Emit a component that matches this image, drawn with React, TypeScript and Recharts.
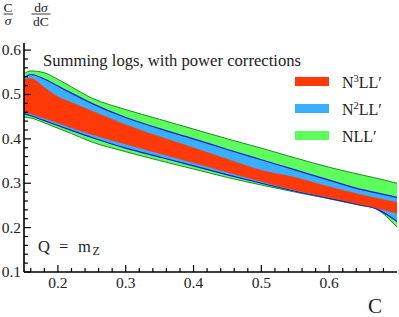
import React from 'react';
import { ComposedChart, Area, Line, XAxis, YAxis } from 'recharts';

// C values
const cValues = [0.15, 0.16, 0.18, 0.2, 0.22, 0.25, 0.3, 0.35, 0.4, 0.45, 0.5, 0.55, 0.6, 0.65, 0.665, 0.7];

// NLL' band
const nllHigh = [0.547, 0.553, 0.549, 0.534, 0.517, 0.492, 0.466, 0.444, 0.422, 0.400, 0.379, 0.357, 0.336, 0.318, 0.313, 0.300];
const nllLow = [0.449, 0.447, 0.436, 0.424, 0.412, 0.393, 0.371, 0.351, 0.332, 0.313, 0.296, 0.280, 0.265, 0.249, 0.245, 0.201];

// N2LL' band
const n2llHigh = [0.538, 0.545, 0.535, 0.519, 0.503, 0.480, 0.448, 0.423, 0.400, 0.376, 0.353, 0.330, 0.307, 0.285, 0.280, 0.268];
const n2llLow = [0.457, 0.452, 0.441, 0.430, 0.419, 0.403, 0.379, 0.359, 0.339, 0.319, 0.300, 0.282, 0.266, 0.250, 0.245, 0.214];

// N3LL' band
const n3llHigh = [0.534, 0.536, 0.516, 0.495, 0.482, 0.463, 0.432, 0.405, 0.380, 0.354, 0.329, 0.313, 0.292, 0.273, 0.268, 0.257];
const n3llLow = [0.461, 0.456, 0.446, 0.436, 0.425, 0.410, 0.388, 0.367, 0.346, 0.325, 0.304, 0.284, 0.268, 0.251, 0.246, 0.232];

// ticks
const xTicks = [0.16, 0.18, 0.2, 0.22, 0.24, 0.26, 0.28, 0.3, 0.32, 0.34, 0.36, 0.38, 0.4, 0.42, 0.44, 0.46, 0.48, 0.5, 0.52, 0.54, 0.56, 0.58, 0.6, 0.62, 0.64, 0.66, 0.68];
const yTicks = [0.1, 0.12, 0.14, 0.16, 0.18, 0.2, 0.22, 0.24, 0.26, 0.28, 0.3, 0.32, 0.34, 0.36, 0.38, 0.4, 0.42, 0.44, 0.46, 0.48, 0.5, 0.52, 0.54, 0.56, 0.58, 0.6];

const seriesNames = ['N3LL', 'N2LL', 'NLL'];
const seriesColors = ['#ff3a08', '#38b0ff', '#5cff5c'];
const seriesStrokes = ['#ff3a08', '#1018e0', '#1f8a1f'];

const data = cValues.map((c, i) => ({
  c,
  nll: [nllLow[i], nllHigh[i]],
  n2ll: [n2llLow[i], n2llHigh[i]],
  n3ll: [n3llLow[i], n3llHigh[i]],
}));

const FONT = 'Liberation Serif';

const isMajor = (v: number) => Math.abs(v * 10 - Math.round(v * 10)) < 1e-6;

const BottomTick = (props: any) => {
  const { x, y, payload } = props;
  const v = payload.value;
  const major = isMajor(v);
  return (
    <g>
      <line x1={x} x2={x} y1={y} y2={y - (major ? 7 : 4)} stroke="#000" strokeWidth={1.2} />
      {major && (
        <text x={x} y={y + 16} textAnchor="middle" fontSize={15.5} fontFamily={FONT} fill="#222">
          {v.toFixed(1)}
        </text>
      )}
    </g>
  );
};

const TopTick = (props: any) => {
  const { x, y, payload } = props;
  const major = isMajor(payload.value);
  return <line x1={x} x2={x} y1={y} y2={y + (major ? 7 : 4)} stroke="#000" strokeWidth={1.2} />;
};

const LeftTick = (props: any) => {
  const { x, y, payload } = props;
  const v = payload.value;
  const major = isMajor(v);
  return (
    <g>
      <line x1={x} x2={x + (major ? 7 : 4)} y1={y} y2={y} stroke="#000" strokeWidth={1.2} />
      {major && (
        <text x={x - 3} y={y + 5} textAnchor="end" fontSize={15.5} fontFamily={FONT} fill="#222">
          {v.toFixed(1)}
        </text>
      )}
    </g>
  );
};

const RightTick = (props: any) => {
  const { x, y, payload } = props;
  const major = isMajor(payload.value);
  return <line x1={x} x2={x - (major ? 7 : 4)} y1={y} y2={y} stroke="#000" strokeWidth={1.2} />;
};

const axisLine = { stroke: '#000', strokeWidth: 1.6 };

export default function App() {
  return (
    <div style={{ position: 'absolute', left: 0, top: 0, width: 399, height: 317, background: '#fff' }}>
      <ComposedChart width={399} height={317} data={data} margin={{ top: 43, right: 2, bottom: 0, left: 0 }}>
        <XAxis xAxisId="bottom" dataKey="c" type="number" domain={[0.15, 0.7]} allowDataOverflow ticks={xTicks} interval={0}
          tick={<BottomTick />} tickLine={false} tickSize={0} tickMargin={0} axisLine={axisLine} height={45} />
        <XAxis xAxisId="top" orientation="top" dataKey="c" type="number" domain={[0.15, 0.7]} allowDataOverflow ticks={xTicks} interval={0}
          tick={<TopTick />} tickLine={false} tickSize={0} tickMargin={0} axisLine={axisLine} height={0} />
        <YAxis yAxisId="left" type="number" domain={[0.1, 0.616]} allowDataOverflow ticks={yTicks} interval={0}
          tick={<LeftTick />} tickLine={false} tickSize={0} tickMargin={0} axisLine={axisLine} width={24} />
        <YAxis yAxisId="right" orientation="right" type="number" domain={[0.1, 0.616]} allowDataOverflow ticks={yTicks} interval={0}
          tick={<RightTick />} tickLine={false} tickSize={0} tickMargin={0} axisLine={axisLine} width={0} />
        <Area xAxisId="bottom" yAxisId="left" type="monotone" dataKey="nll" fill={seriesColors[2]} fillOpacity={1}
          stroke={seriesStrokes[2]} strokeWidth={1} isAnimationActive={false} />
        <Area xAxisId="bottom" yAxisId="left" type="monotone" dataKey="n2ll" fill={seriesColors[1]} fillOpacity={1}
          stroke={seriesStrokes[1]} strokeWidth={1.2} isAnimationActive={false} />
        <Area xAxisId="bottom" yAxisId="left" type="monotone" dataKey="n3ll" fill={seriesColors[0]} fillOpacity={1}
          stroke={seriesStrokes[0]} strokeWidth={0.5} isAnimationActive={false} />
        <Line xAxisId="top" yAxisId="right" dataKey={(d: any) => d.n3ll[0]} stroke="none" dot={false} isAnimationActive={false} />
      </ComposedChart>
      <svg width={399} height={317} style={{ position: 'absolute', left: 0, top: 0, pointerEvents: 'none' }}>
        <g fontFamily={FONT} fill="#222">
          {/* y-axis label: C/σ dσ/dC */}
          <text x={8} y={11.5} fontSize={13.5} textAnchor="middle">C</text>
          <line x1={3.5} x2={13} y1={14} y2={14} stroke="#222" strokeWidth={0.9} />
          <text x={8} y={24.5} fontSize={13.5} textAnchor="middle" fontStyle="italic">σ</text>
          <text x={41} y={11.5} fontSize={13.5} textAnchor="middle">d<tspan fontStyle="italic">σ</tspan></text>
          <line x1={31.5} x2={50.5} y1={14} y2={14} stroke="#222" strokeWidth={0.9} />
          <text x={41} y={25.5} fontSize={13.5} textAnchor="middle">dC</text>

          <text x={43} y={66} fontSize={16.5} textLength={258} lengthAdjust="spacingAndGlyphs">Summing logs, with power corrections</text>

          {seriesNames.map((n, i) => {
            const yy = 77 + i * 27;
            const sup = n === 'N3LL' ? '3' : n === 'N2LL' ? '2' : '';
            return (
              <g key={n}>
                <rect x={295} y={yy} width={34} height={9} fill={seriesColors[i]} />
                <text x={342} y={yy + 11} fontSize={16}>
                  N{sup && <tspan fontSize={10.5} dy={-6.5}>{sup}</tspan>}
                  <tspan dy={sup ? 6.5 : 0}>{'LL\u2032'}</tspan>
                </text>
              </g>
            );
          })}

          <text x={38} y={252} fontSize={16.5}>Q</text>
          <text x={59} y={252} fontSize={16.5}>=</text>
          <text x={78} y={252} fontSize={16.5}>m</text>
          <text x={92.5} y={254.5} fontSize={12}>Z</text>

          <text x={368} y={313} fontSize={21}>C</text>
        </g>
      </svg>
    </div>
  );
}
